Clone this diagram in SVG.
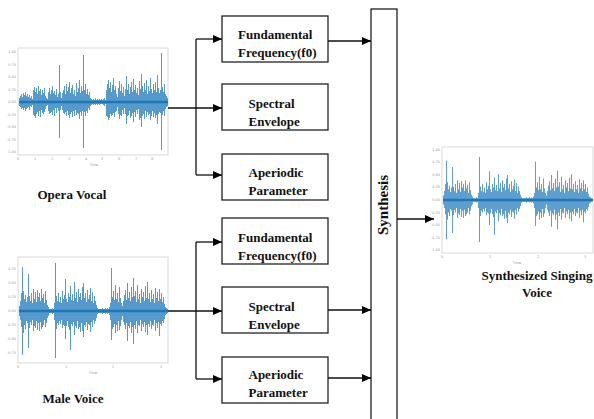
<svg xmlns="http://www.w3.org/2000/svg" xmlns:xlink="http://www.w3.org/1999/xlink" width="594" height="419" viewBox="0 0 594 419">
<style>
.box{fill:#fff;stroke:#222;stroke-width:1.3}
.lbl{font-family:"Liberation Serif","Times New Roman",serif;font-weight:bold;font-size:13px;fill:#111}
.wire{fill:none;stroke:#111;stroke-width:1.3}
.frame{fill:#fff;stroke:#d0d0d0;stroke-width:0.8}
.wave{fill:none;stroke:#2a7fc0;stroke-width:0.8}
.base{stroke:#1f77b4;stroke-width:2.4}
.tk{font-family:"DejaVu Sans",sans-serif;font-size:3.5px;fill:#999}
</style>
<defs>
<marker id="ah" markerWidth="9" markerHeight="8" refX="9" refY="4" orient="auto" markerUnits="userSpaceOnUse">
<path d="M0,0L9,4L0,8Z" fill="#000"/>
</marker>
<path id="malewave" d="M19,306V316M20,301V320M21,293V327M22,267V355M23,291V333M24,299V325M25,295V329M26,302V321M27,297V323M28,274V348M29,296V328M30,301V322M31,293V325M32,303V320M33,289V331M34,299V326M35,292V328M36,302V321M37,290V330M38,297V323M39,293V331M40,301V322M41,289V329M42,298V327M43,294V325M44,303V320M45,291V327M46,300V323M47,305V318M48,307V316M49,309V313M50,309V313M51,309V313M52,308V314M53,309V313M54,303V320M55,263V358M56,296V329M57,301V323M58,293V325M59,302V321M60,297V324M61,303V320M62,291V328M63,299V325M64,295V326M65,279V339M66,299V326M67,302V321M68,293V327M69,297V330M70,286V350M71,300V324M72,294V326M73,301V322M74,282V335M75,298V326M76,292V328M77,302V321M78,289V329M79,297V327M80,293V332M81,300V323M82,287V331M83,283V337M84,298V325M85,293V327M86,302V322M87,290V330M88,299V324M89,295V325M90,288V332M91,301V322M92,292V327M93,303V320M94,296V324M95,301V321M96,305V318M97,308V314M98,309V313M99,309V313M100,309V313M101,309V313M102,308V314M103,309V313M104,309V313M105,308V314M106,309V313M107,308V314M108,309V313M109,307V315M110,303V320M111,268V340M112,297V329M113,291V327M114,300V324M115,285V333M116,299V325M117,293V331M118,302V321M119,287V330M120,298V326M121,303V320M122,306V316M123,301V322M124,295V325M125,290V329M126,300V323M127,283V341M128,298V326M129,292V328M130,301V322M131,287V333M132,297V327M133,278V344M134,296V325M135,291V329M136,302V321M137,285V333M138,299V325M139,294V326M140,303V320M141,289V331M142,297V324M143,292V327M144,301V322M145,286V332M146,298V325M147,282V335M148,299V324M149,293V327M150,302V321M151,290V329M152,299V325M153,294V326M154,303V320M155,288V331M156,298V323M157,292V328M158,301V322M159,289V336M160,299V324M161,293V326M162,302V321M163,297V323M164,304V319M165,307V315M166,308V314M167,309V313"/>
</defs>

<g id="opera-vocal">
<rect class="frame" x="18" y="48" width="150" height="107"/>
<path class="wave" transform="translate(0.5,0)" d="M19,98V106M20,96V107M21,94V109M22,97V108M23,93V110M24,95V108M25,92V111M26,96V109M27,94V108M28,97V107M29,95V110M30,98V106M31,96V107M32,99V105M33,90V115M34,87V116M35,92V118M36,88V114M37,94V112M38,86V116M39,91V111M40,89V117M41,95V110M42,90V113M43,93V114M44,88V112M45,96V109M46,98V106M47,99V105M48,92V111M49,88V114M50,94V113M51,90V112M52,86V115M53,93V110M54,91V116M55,95V108M56,89V113M57,97V108M58,94V111M59,65V138M60,92V110M61,98V106M62,93V110M63,90V113M64,86V114M65,94V112M66,84V116M67,91V111M68,87V115M69,82V118M70,93V114M71,88V112M72,85V117M73,94V111M74,90V116M75,96V110M76,83V115M77,92V113M78,88V114M79,80V119M80,93V112M81,86V116M82,91V111M83,55V148M84,90V112M85,84V116M86,94V111M87,89V113M88,95V108M89,92V110M90,98V106M91,99V105M92,100V104M93,99V105M94,100V104M95,98V105M96,100V104M97,99V105M98,100V104M99,99V105M100,100V104M101,99V104M102,100V104M103,99V105M104,98V106M105,100V104M106,90V116M107,84V117M108,80V120M109,88V118M110,82V114M111,92V116M112,85V115M113,78V113M114,90V117M115,86V112M116,94V111M117,97V107M118,88V114M119,81V119M120,91V115M121,84V116M122,93V110M123,87V114M124,96V108M125,89V114M126,76V124M127,90V116M128,84V115M129,94V111M130,87V118M131,82V116M132,92V113M133,79V122M134,90V112M135,85V117M136,93V110M137,88V114M138,95V109M139,81V120M140,89V118M141,74V127M142,86V116M143,92V114M144,83V119M145,90V111M146,80V117M147,94V112M148,86V115M149,91V114M150,78V120M151,89V116M152,93V111M153,84V117M154,90V113M155,82V118M156,92V115M157,75V124M158,88V114M159,93V112M160,90V113M161,53V150M162,87V115M163,92V111M164,84V116M165,94V109M166,96V107M167,98V106"/>
<line class="base" x1="19" y1="102" x2="168" y2="102"/>
<g class="tk" text-anchor="end">
<text x="16" y="53">1.00</text><text x="16" y="65.5">0.75</text><text x="16" y="78">0.50</text><text x="16" y="90.5">0.25</text><text x="16" y="103">0.00</text><text x="16" y="115.5">-0.25</text><text x="16" y="128">-0.50</text><text x="16" y="140.5">-0.75</text><text x="16" y="153">-1.00</text>
</g>
<g class="tk" text-anchor="middle">
<text x="18" y="160">0</text><text x="35" y="160">1</text><text x="52" y="160">2</text><text x="69" y="160">3</text><text x="86" y="160">4</text><text x="102" y="160">5</text><text x="119" y="160">6</text><text x="136" y="160">7</text><text x="152" y="160">8</text>
<text x="94" y="166">Time</text>
</g>
<text class="lbl" x="72" y="199" text-anchor="middle">Opera Vocal</text>
</g>

<g id="male-voice">
<rect class="frame" x="18" y="257" width="150" height="106"/>
<use xlink:href="#malewave" class="wave" transform="translate(0.5,0)"/>
<line class="base" x1="19" y1="311" x2="168" y2="311"/>
<g class="tk" text-anchor="end">
<text x="16" y="270">0.75</text><text x="16" y="284">0.50</text><text x="16" y="298">0.25</text><text x="16" y="312">0.00</text><text x="16" y="326">-0.25</text><text x="16" y="340">-0.50</text><text x="16" y="354">-0.75</text>
</g>
<g class="tk" text-anchor="middle">
<text x="18" y="368">0</text><text x="66" y="368">1</text><text x="113" y="368">2</text><text x="161" y="368">3</text>
<text x="93" y="374">Time</text>
</g>
<text class="lbl" x="73" y="403" text-anchor="middle">Male Voice</text>
</g>

<g id="f0-top"><rect class="box" x="222" y="16" width="106" height="46"/><text class="lbl" x="238" y="39">Fundamental</text><text class="lbl" x="238" y="57">Frequency(f0)</text></g>
<g id="sp-top"><rect class="box" x="222" y="84" width="106" height="46"/><text class="lbl" x="248.5" y="108">Spectral</text><text class="lbl" x="248.5" y="126">Envelope</text></g>
<g id="ap-top"><rect class="box" x="222" y="154" width="106" height="46"/><text class="lbl" x="248.5" y="177">Aperiodic</text><text class="lbl" x="248.5" y="195">Parameter</text></g>
<g id="f0-bot"><rect class="box" x="222" y="218" width="106" height="46"/><text class="lbl" x="238" y="242">Fundamental</text><text class="lbl" x="238" y="260">Frequency(f0)</text></g>
<g id="sp-bot"><rect class="box" x="222" y="287" width="106" height="46"/><text class="lbl" x="248.5" y="311">Spectral</text><text class="lbl" x="248.5" y="329">Envelope</text></g>
<g id="ap-bot"><rect class="box" x="222" y="357" width="106" height="46"/><text class="lbl" x="248.5" y="379">Aperiodic</text><text class="lbl" x="248.5" y="397">Parameter</text></g>

<g id="synthesis"><rect class="box" x="371" y="9" width="26" height="420"/><text class="lbl" style="font-size:15px" transform="translate(388,205) rotate(-90)" text-anchor="middle">Synthesis</text></g>

<g id="synth-voice">
<rect class="frame" x="442" y="147" width="151" height="106"/>
<use xlink:href="#malewave" class="wave" transform="translate(424.5,200) scale(1,0.893) translate(0,-311)"/>
<line class="base" x1="443" y1="200" x2="593" y2="200"/>
<g class="tk" text-anchor="end">
<text x="440" y="150.5">1.00</text><text x="440" y="163">0.75</text><text x="440" y="175.5">0.50</text><text x="440" y="188">0.25</text><text x="440" y="201">0.00</text><text x="440" y="213.5">-0.25</text><text x="440" y="226">-0.50</text><text x="440" y="238.5">-0.75</text><text x="440" y="251">-1.00</text>
</g>
<g class="tk" text-anchor="middle">
<text x="442" y="258">0</text><text x="490" y="258">1</text><text x="538" y="258">2</text><text x="585" y="258">3</text>
<text x="517" y="264">Time</text>
</g>
<text class="lbl" x="537" y="280" text-anchor="middle">Synthesized Singing</text>
<text class="lbl" x="537" y="297" text-anchor="middle">Voice</text>
</g>

<g id="connectors">
<path class="wire" d="M168,108H222" marker-end="url(#ah)"/>
<path class="wire" d="M196,39V175"/>
<path class="wire" d="M196,39H222" marker-end="url(#ah)"/>
<path class="wire" d="M196,175H222" marker-end="url(#ah)"/>
<path class="wire" d="M328,41H371" marker-end="url(#ah)"/>
<path class="wire" d="M168,311H222" marker-end="url(#ah)"/>
<path class="wire" d="M196,242V379"/>
<path class="wire" d="M196,242H222" marker-end="url(#ah)"/>
<path class="wire" d="M196,379H222" marker-end="url(#ah)"/>
<path class="wire" d="M328,310H371" marker-end="url(#ah)"/>
<path class="wire" d="M328,378H371" marker-end="url(#ah)"/>
<path class="wire" d="M397,219H434" marker-end="url(#ah)"/>
</g>
</svg>
